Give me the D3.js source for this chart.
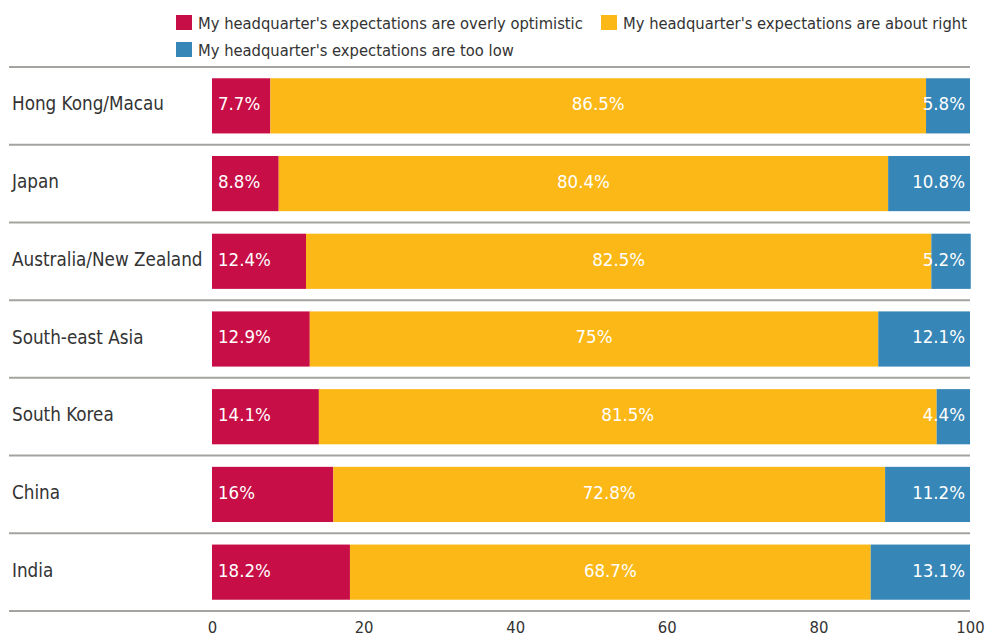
<!DOCTYPE html>
<html>
<head>
<meta charset="utf-8">
<script src="https://cdn.jsdelivr.net/npm/d3@7"></script>
<style>
  body { margin: 0; background: #fff; }
  svg { display: block; }
  text { font-family: "DejaVu Sans Condensed", "DejaVu Sans", sans-serif; font-stretch: condensed; }
</style>
</head>
<body>
<svg id="chart" width="987" height="638"></svg>
<script>
const categories = ["Hong Kong/Macau", "Japan", "Australia/New Zealand", "South-east Asia", "South Korea", "China", "India"];
const overlyOptimistic = [7.7, 8.8, 12.4, 12.9, 14.1, 16, 18.2];
const aboutRight = [86.5, 80.4, 82.5, 75, 81.5, 72.8, 68.7];
const tooLow = [5.8, 10.8, 5.2, 12.1, 4.4, 11.2, 13.1];
const seriesNames = [
  "My headquarter's expectations are overly optimistic",
  "My headquarter's expectations are about right",
  "My headquarter's expectations are too low"
];
const seriesColors = ["#C80E46", "#FBB817", "#3686B7"];
const tickValues = [0, 20, 40, 60, 80, 100];

const svg = d3.select("#chart");
const margin = { left: 212, right: 17, top: 67, bottom: 27 };
const width = 987, height = 638;

const x = d3.scaleLinear().domain([0, 100]).range([margin.left, width - margin.right]);
const y = d3.scaleBand().domain(categories).range([margin.top, height - margin.bottom]).paddingInner(0.29).paddingOuter(0.145);

const seriesValues = [overlyOptimistic, aboutRight, tooLow];
const stackData = categories.map((c, i) => ({ cat: c, a: overlyOptimistic[i], b: aboutRight[i], c: tooLow[i] }));
const stacked = d3.stack().keys(["a", "b", "c"])(stackData);

// Row separators
const step = y.step();
const lineYs = categories.map(c => y(c) - step * y.paddingInner() / 2);
lineYs.push(y(categories[categories.length - 1]) + y.bandwidth() + step * y.paddingInner() / 2);
svg.append("g").selectAll("line").data(lineYs).join("line")
  .attr("x1", 9).attr("x2", x(100))
  .attr("y1", d => d).attr("y2", d => d)
  .attr("stroke", "#a3a3a0").attr("stroke-width", 2);

// Stacked bars
const barG = svg.append("g");
stacked.forEach((s, si) => {
  barG.append("g").attr("fill", seriesColors[si]).selectAll("rect").data(s).join("rect")
    .attr("x", d => x(d[0]))
    .attr("width", d => x(d[1]) - x(d[0]))
    .attr("y", d => y(d.data.cat))
    .attr("height", y.bandwidth());
});

// Segment value labels
stacked.forEach((s, si) => {
  barG.append("g").selectAll("text").data(s).join("text")
    .attr("x", d => si === 0 ? x(d[0]) + 6 : si === 1 ? (x(d[0]) + x(d[1])) / 2 : x(100) - 5)
    .attr("y", d => y(d.data.cat) + y.bandwidth() / 2 - 2)
    .attr("dy", "0.35em")
    .attr("text-anchor", si === 0 ? "start" : si === 1 ? "middle" : "end")
    .attr("fill", "#fff")
    .attr("font-size", 18.5)
    .text((d, i) => seriesValues[si][i] + "%");
});

// Category labels
svg.append("g").selectAll("text").data(categories).join("text")
  .attr("x", 12)
  .attr("y", d => y(d) + y.bandwidth() / 2 - 2)
  .attr("dy", "0.35em")
  .attr("fill", "#333")
  .attr("font-size", 18.7)
  .text(d => d);

// Axis
const axis = d3.axisBottom(x).tickValues(tickValues).tickSize(0).tickPadding(10);
const axG = svg.append("g").attr("transform", `translate(0,${lineYs[lineYs.length - 1]})`).call(axis);
axG.select(".domain").remove();
axG.selectAll("text").attr("font-size", 16.5).attr("fill", "#333")
  .style("font-family", '"DejaVu Sans Condensed", "DejaVu Sans", sans-serif');

// Legend
const legendPos = [[176, 15], [601, 15], [176, 42]];
const lg = svg.append("g");
seriesNames.forEach((n, i) => {
  const [lx, ly] = legendPos[i];
  lg.append("rect").attr("x", lx).attr("y", ly).attr("width", 16).attr("height", 15).attr("fill", seriesColors[i]);
  lg.append("text").attr("x", lx + 22).attr("y", ly + 8).attr("dy", "0.35em")
    .attr("font-size", 16.4).attr("fill", "#333").text(n);
});
</script>
</body>
</html>
